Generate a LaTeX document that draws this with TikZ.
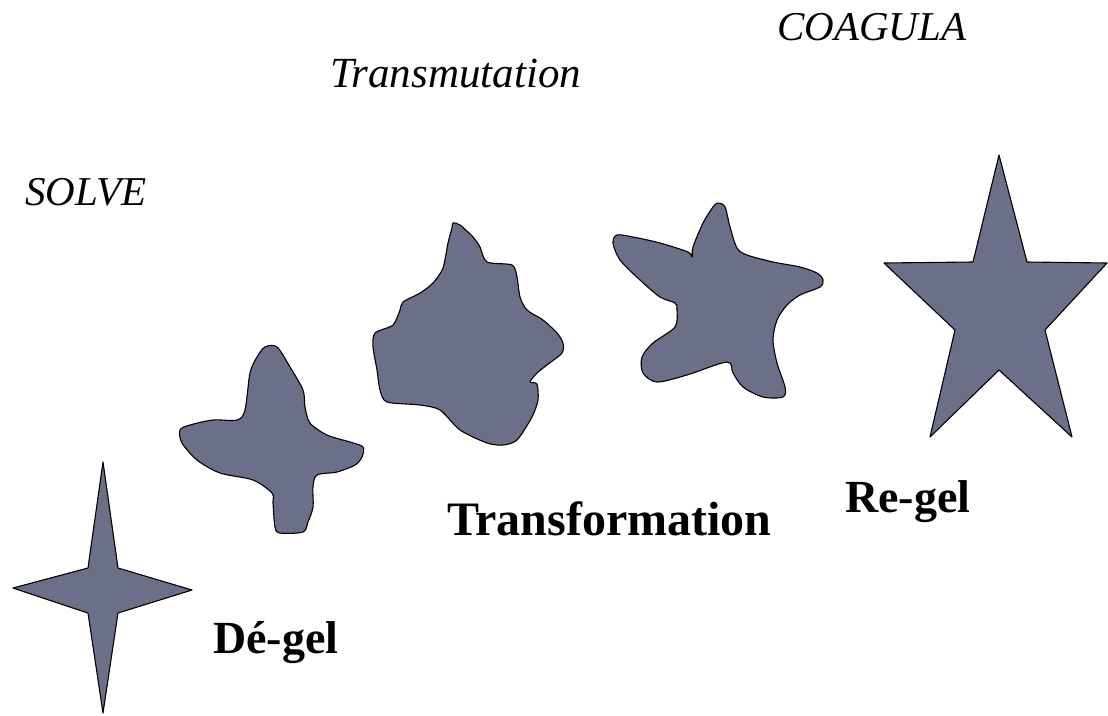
\documentclass[tikz,border=0pt]{standalone}
\usepackage{fontspec}
\setmainfont{Liberation Serif}
\definecolor{shapefill}{RGB}{107,111,135}
\tikzset{
  shapestyle/.style={fill=shapefill, draw=black, line width=1.1pt, line join=round},
  italiclabel/.style={anchor=base west, inner sep=0pt, font=\fontsize{41}{44}\selectfont\itshape},
  boldlabel/.style={anchor=base west, inner sep=0pt, font=\fontsize{46}{48}\selectfont\bfseries},
}
\begin{document}
\begin{tikzpicture}[x=1pt,y=-1pt]
\useasboundingbox (0,0) rectangle (1108,715);
\fill[white] (0,0) rectangle (1108,715);

% four-pointed star
\draw[shapestyle] (103,462) -- (118,568) -- (192,590) -- (118,613) -- (103,713)
  -- (88,613) -- (13,588) -- (88,568) -- cycle;

% first blob
\draw[shapestyle] plot[smooth cycle, tension=0.5] coordinates {
 (265,347) (277,347) (290,367) (303,390) (305,407) (310,423) (327,435) (350,442)
 (363,447) (362,457) (355,465) (337,472) (317,475) (313,487) (313,507) (308,522)
 (303,532) (280,533) (275,527) (273,503) (272,493) (253,480) (220,473) (197,460)
 (182,443) (180,430) (190,425) (213,420) (237,420) (245,410) (250,373) (257,357)};

% second blob
\draw[shapestyle] plot[smooth cycle, tension=0.45] coordinates {
 (453,223) (460,225) (473,237) (480,247) (487,262) (512,265) (517,277) (520,297)
 (527,310) (543,320) (557,333) (563,343) (562,353) (547,365) (537,373) (530,382)
 (537,384) (538,400) (532,417) (517,440) (503,445) (487,443) (460,430) (440,410)
 (420,405) (387,402) (380,390) (377,370) (373,347) (375,333) (393,325) (400,310)
 (403,302) (420,293) (433,283) (443,268) (448,243) (452,228)};

% third blob
\draw[shapestyle] plot[smooth cycle, tension=0.5] coordinates {
 (718,203) (725,207) (730,227) (737,248) (747,255) (773,262) (800,267) (817,273)
 (823,280) (820,287) (800,295) (787,305) (777,320) (773,340) (777,363) (785,387)
 (783,397) (763,397) (743,387) (733,373) (727,362) (687,375) (657,382) (643,373)
 (642,357) (653,343) (675,327) (677,310) (675,303) (660,297) (640,280) (620,260)
 (613,243) (617,235) (633,237) (660,243) (688,252) (692,257) (693,247) (703,223)
 (713,207)};

% five-pointed star
\draw[shapestyle] (999,155) -- (1027,262) -- (1107,263) -- (1045,330) -- (1072,437)
  -- (999,370) -- (930,437) -- (955,330) -- (884,263) -- (973,262) -- cycle;

% labels
\node[italiclabel] (solve) at (25,205) {SOLVE};
\node[italiclabel, font=\fontsize{43}{46}\selectfont\itshape] (transm) at (330,87) {Transmutation};
\node[italiclabel] (coag) at (777,40) {COAGULA};
\node[boldlabel] (degel) at (213,653) {Dé-gel};
\node[boldlabel, font=\fontsize{48}{50}\selectfont\bfseries] (transf) at (447,535) {Transformation};
\node[boldlabel] (regel) at (845,512) {Re-gel};
\end{tikzpicture}
\end{document}
